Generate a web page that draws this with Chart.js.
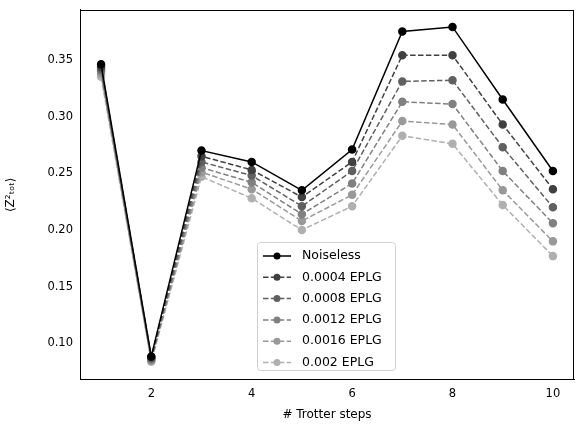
<!DOCTYPE html><html><head><script src="https://cdn.jsdelivr.net/npm/chart.js@4"></script>
<style>body{margin:0;background:#fff}#w{width:584px;height:432px}</style></head><body><div id="w"><canvas id="c"></canvas></div>
<script>
const steps=[1,2,3,4,5,6,7,8,9,10];
const labels=["Noiseless","0.0004 EPLG","0.0008 EPLG","0.0012 EPLG","0.0016 EPLG","0.002 EPLG"];
const noiseless=[0.346,0.0886,0.270,0.260,0.235,0.271,0.375,0.379,0.315,0.252];
const e0004=[0.344,0.088,0.265,0.253,0.229,0.260,0.354,0.354,0.293,0.236];
const e0008=[0.342,0.087,0.260,0.248,0.221,0.252,0.331,0.332,0.273,0.220];
const e0012=[0.340,0.086,0.255,0.242,0.214,0.241,0.313,0.311,0.252,0.206];
const e0016=[0.338,0.085,0.251,0.236,0.208,0.231,0.296,0.293,0.235,0.190];
const e0020=[0.335,0.084,0.247,0.228,0.200,0.221,0.283,0.276,0.222,0.177];
const series=[noiseless,e0004,e0008,e0012,e0016,e0020];
const colors=["#000000","#404040","#606060","#808080","#999999","#b0b0b0"];
const ds=series.map((s,i)=>({label:labels[i],data:s.map((v,j)=>({x:steps[j],y:v})),borderColor:colors[i],backgroundColor:colors[i],borderWidth:1.5,borderDash:i?[5.5,2.4]:[],pointRadius:3.5,pointHoverRadius:3.5,tension:0}));
const frame={id:'fr',afterDatasetsDraw(ch){const a=ch.chartArea,c=ch.ctx;c.save();c.strokeStyle='#000';c.lineWidth=1;c.strokeRect(Math.round(a.left)+.5,Math.round(a.top)+.5,Math.round(a.right-a.left)-1,Math.round(a.bottom-a.top)-1);c.restore();}};
const legendPlugin={id:'lg',afterDraw(ch){const c=ch.ctx;c.save();const x=257,y=242,w=138,h=128;
c.fillStyle='rgba(255,255,255,0.8)';c.strokeStyle='#d0d0d0';c.lineWidth=1;c.beginPath();c.roundRect(x+.5,y+.5,w,h,3);c.fill();c.stroke();
c.font='12.5px "DejaVu Sans"';c.textBaseline='middle';
ch.data.datasets.forEach((d,i)=>{const yy=y+14+i*21.3;c.strokeStyle=d.borderColor;c.lineWidth=1.5;c.setLineDash(i?[5.5,2.4]:[]);c.beginPath();c.moveTo(x+6,yy);c.lineTo(x+34,yy);c.stroke();c.setLineDash([]);c.fillStyle=d.borderColor;c.beginPath();c.arc(x+20,yy,3.5,0,7);c.fill();c.fillStyle='#000';c.fillText(d.label,x+45,yy);});c.restore();}};
new Chart(document.getElementById('c'),{type:'line',data:{datasets:ds},plugins:[frame,legendPlugin],options:{responsive:true,maintainAspectRatio:false,animation:false,
layout:{padding:{top:9,right:10,left:0,bottom:6}},
plugins:{legend:{display:false},tooltip:{enabled:false}},
scales:{x:{type:'linear',min:0.58,max:10.42,afterBuildTicks(a){a.ticks=[2,4,6,8,10].map(v=>({value:v}));},grid:{display:false,tickLength:4},border:{color:'#000'},ticks:{color:'#000',font:{family:'DejaVu Sans',size:11.5}},title:{display:true,text:'# Trotter steps',color:'#000',font:{family:'DejaVu Sans',size:12}}},
y:{min:0.068,max:0.394,afterBuildTicks(a){a.ticks=[0.10,0.15,0.20,0.25,0.30,0.35].map(v=>({value:v}));},afterFit(a){a.width=80;},grid:{display:false,tickLength:4},border:{color:'#000'},ticks:{color:'#000',font:{family:'DejaVu Sans',size:11.5},callback:v=>v.toFixed(2)},title:{display:true,text:'⟨Z²ₜₒₜ⟩',color:'#000',font:{family:'DejaVu Sans',size:12}}}}}});
</script></body></html>
